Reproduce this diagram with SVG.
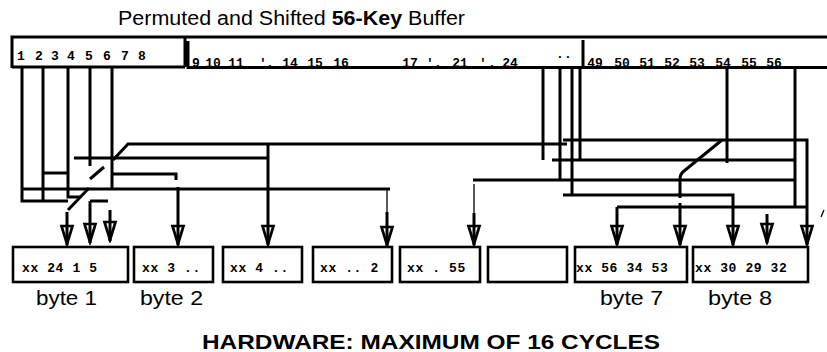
<svg xmlns="http://www.w3.org/2000/svg" width="827" height="352" viewBox="0 0 827 352">
<defs>
<style>
.ln{stroke:#000;stroke-width:3;fill:none;stroke-linejoin:miter}
.thin{stroke:#000;stroke-width:1.3;fill:none}
.bx{fill:#fff;stroke:#000;stroke-width:2.6}
.num{font-family:"Liberation Mono","DejaVu Sans Mono",monospace;font-weight:bold;font-size:13px;fill:#000;text-anchor:middle}
.bt{font-family:"Liberation Mono","DejaVu Sans Mono",monospace;font-weight:bold;font-size:13px;letter-spacing:0.6px;fill:#000}
.lab{font-family:"Liberation Sans",Arial,sans-serif;font-size:20px;fill:#000}
.hw{font-family:"Liberation Sans",Arial,sans-serif;font-size:20px;font-weight:bold;fill:#000}
</style>
<marker id="ah" markerUnits="userSpaceOnUse" viewBox="-22 -8 24 16" markerWidth="24" markerHeight="16" refX="0" refY="0" orient="auto">
<path d="M-19,-5.5 L-1,0 L-19,5.5 Z" fill="none" stroke="#000" stroke-width="2.7"/>
</marker>
</defs>

<text class="lab" x="118" y="25" textLength="347" lengthAdjust="spacingAndGlyphs">Permuted and Shifted <tspan font-weight="bold">56-Key</tspan> Buffer</text>

<g id="buffer">
<path class="ln" d="M12,37 H827 M12,35.5 V68 M12,67 H185 M185,37 V67 M188,41 V67.5 H827 M583,40 V67.5"/>
<text class="num" x="21" y="60">1</text><text class="num" x="39" y="60">2</text><text class="num" x="55" y="60">3</text><text class="num" x="71" y="60">4</text>
<text class="num" x="89" y="60">5</text><text class="num" x="107" y="60">6</text><text class="num" x="125" y="60">7</text><text class="num" x="142" y="60">8</text>
<text class="num" x="196" y="67">9</text><text class="num" x="213" y="67">10</text><text class="num" x="236" y="67">11</text>
<text class="num" x="263" y="67">'</text><text class="num" x="270" y="67">.</text>
<text class="num" x="290" y="67">14</text><text class="num" x="315" y="67">15</text><text class="num" x="341" y="67">16</text>
<text class="num" x="410" y="67">17</text><text class="num" x="430" y="67">'</text><text class="num" x="438" y="67">.</text>
<text class="num" x="460" y="67">21</text><text class="num" x="483" y="67">'</text><text class="num" x="492" y="67">.</text>
<text class="num" x="510" y="67">24</text>
<text class="num" x="560" y="58">.</text><text class="num" x="568" y="58">.</text>
<text class="num" x="595" y="67">49</text><text class="num" x="622" y="67">50</text><text class="num" x="647" y="67">51</text><text class="num" x="672" y="67">52</text>
<text class="num" x="697" y="67">53</text><text class="num" x="723" y="67">54</text><text class="num" x="749" y="67">55</text><text class="num" x="774" y="67">56</text>
</g>

<g id="connectors">
<path class="ln" d="M22,67 V201 H68"/>
<path class="ln" d="M43,67 V201"/>
<path class="ln" d="M68,67 V197 H80"/>
<path class="ln" d="M90,67 V166"/>
<path class="ln" d="M112,67 V189"/>
<path class="ln" d="M113,160 L128,144 H567"/>
<path class="ln" d="M74,158 H268"/>
<path class="ln" d="M268,144 V245" marker-end="url(#ah)"/>
<path class="ln" d="M43,173 H68"/>
<path class="ln" d="M112,174 H176 V180"/>
<path class="ln" d="M178,187 V245" marker-end="url(#ah)"/>
<path class="ln" d="M90,179 L104,167"/>
<path class="ln" d="M22,189 H390"/>
<path class="thin" d="M387,190 V212"/>
<path class="ln" d="M387,212 V246" marker-end="url(#ah)"/>
<path class="ln" d="M90,201 H108"/>
<path class="ln" d="M68,210 L89,188"/>
<path class="ln" d="M67,212 V245" marker-end="url(#ah)"/>
<path class="ln" d="M90,201 V243" marker-end="url(#ah)"/>
<path class="ln" d="M110,210 V241" marker-end="url(#ah)"/>

<path class="ln" d="M543,67 V160"/>
<path class="ln" d="M560,67 V180"/>
<path class="ln" d="M473,180 H795"/>
<path class="thin" d="M474,184 V213"/>
<path class="ln" d="M474,213 V245" marker-end="url(#ah)"/>
<path class="ln" d="M572,67 V195"/>
<path class="ln" d="M563,195 H733 V245" marker-end="url(#ah)"/>
<path class="ln" d="M580,67 V160"/>
<path class="ln" d="M563,140 H807 V245" marker-end="url(#ah)"/>
<path class="ln" d="M552,160 H795"/>
<path class="ln" d="M795,67 V207"/>
<path class="ln" d="M617,207 H807"/>
<path class="ln" d="M617,207 V245" marker-end="url(#ah)"/>
<path class="ln" d="M727,67 V163"/>
<path class="ln" d="M722,140 L684,171 Q680,174 680,179 V198"/>
<path class="ln" d="M680,203 V245" marker-end="url(#ah)"/>
<path class="ln" d="M767,214 V243" marker-end="url(#ah)"/>
<path class="thin" d="M821,217 L824,210"/>
</g>

<g id="byte1"><rect class="bx" x="13" y="247" width="115" height="35"/><text class="bt" x="22" y="272">xx 24 1 5</text></g>
<g id="byte2"><rect class="bx" x="134" y="247" width="79" height="35"/><text class="bt" x="142" y="272">xx 3 ..</text></g>
<g id="byte3"><rect class="bx" x="223" y="247" width="79" height="35"/><text class="bt" x="230" y="272">xx 4 ..</text></g>
<g id="byte4"><rect class="bx" x="313" y="247" width="79" height="35"/><text class="bt" x="320" y="272">xx .. 2</text></g>
<g id="byte5"><rect class="bx" x="400" y="247" width="80" height="35"/><text class="bt" x="407" y="272">xx . 55</text></g>
<g id="byte6"><rect class="bx" x="488" y="247" width="79" height="35"/></g>
<g id="byte7"><rect class="bx" x="575" y="247" width="112" height="35"/><text class="bt" x="576" y="272">xx 56 34 53</text></g>
<g id="byte8"><rect class="bx" x="693" y="247" width="115" height="35"/><text class="bt" x="695" y="272">xx 30 29 32</text></g>

<text class="lab" x="36" y="305" textLength="61" lengthAdjust="spacingAndGlyphs">byte 1</text>
<text class="lab" x="140" y="305" textLength="63" lengthAdjust="spacingAndGlyphs">byte 2</text>
<text class="lab" x="600" y="305" textLength="63" lengthAdjust="spacingAndGlyphs">byte 7</text>
<text class="lab" x="708" y="305" textLength="64" lengthAdjust="spacingAndGlyphs">byte 8</text>
<text class="hw" x="202" y="349" textLength="458" lengthAdjust="spacingAndGlyphs">HARDWARE: MAXIMUM OF 16 CYCLES</text>
</svg>
